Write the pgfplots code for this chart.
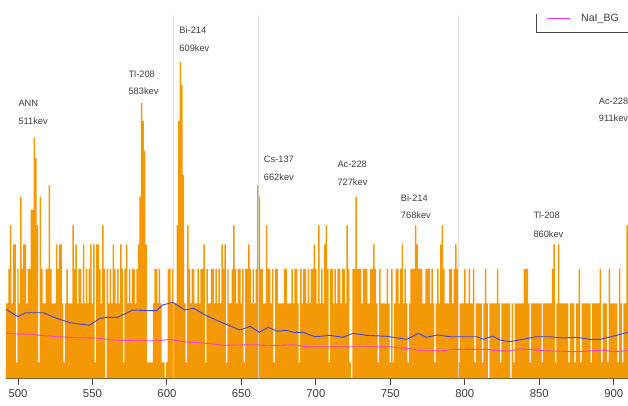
\documentclass[border=0pt]{standalone}
\usepackage{fontspec}
\setmainfont{Liberation Sans}
\usepackage{pgfplots}
\pgfplotsset{compat=1.18}
\definecolor{barorange}{RGB}{243,153,5}
\definecolor{lineblue}{RGB}{65,65,230}
\definecolor{linemag}{RGB}{250,55,230}
\definecolor{txtgray}{RGB}{60,60,60}
\definecolor{axgray}{RGB}{70,70,70}
\definecolor{vgray}{RGB}{215,215,215}
\begin{document}
\begin{tikzpicture}[x=1bp,y=1bp]
\begin{axis}[
  at={(0,0)}, anchor=south west,
  scale only axis, width=622bp, height=363.3bp,
  xmin=491.94, xmax=909.59,
  ymode=log, ymin=0.829, ymax=59.1,
  log origin y=infty,
  axis y line=none, ytick=\empty,
  axis x line*=bottom,
  x axis line style={axgray, line width=0.9bp, -},
  xtick={500,550,...,900},
  xtick align=outside,
  major tick length=6.5bp,
  xtick style={axgray, line width=0.9bp},
  xticklabel style={font=\fontsize{11.4}{13}\selectfont, text=txtgray, yshift=-1bp},
  /pgf/number format/assume math mode=true,
  clip=true,
  legend style={draw=none, fill=none, at={(axis description cs:0.8693,0.990)}, anchor=west,
    inner sep=0pt, outer sep=0pt, font=\fontsize{10.6}{12}\selectfont, text=txtgray,
    nodes={inner sep=0pt}, /tikz/every odd column/.append style={column sep=11bp}},
  legend image code/.code={\draw[#1] (0bp,0bp) -- (22.6bp,0bp);},
]
\addplot[ybar, bar width=1, fill=barorange, draw=none, forget plot] table[row sep=\\] {
x y\\
492 2\\ 493 2\\ 494 3\\ 495 5\\ 496 2\\ 497 4\\ 498 4\\ 499 1\\ 500 3\\ 501 2\\
502 7\\ 503 3\\ 504 4\\ 505 4\\ 506 2\\ 507 3\\ 508 3\\ 509 6\\ 510 6\\ 511 14\\
512 11\\ 513 5\\ 514 1\\ 515 7\\ 516 3\\ 517 2\\ 518 2\\ 519 3\\ 520 3\\ 521 8\\
522 3\\ 523 2\\ 524 2\\ 525 2\\ 526 4\\ 527 3\\ 528 4\\ 529 4\\ 530 2\\ 531 1\\
532 2\\ 533 3\\ 534 2\\ 535 2\\ 536 2\\ 537 5\\ 538 3\\ 539 4\\ 540 2\\ 541 3\\
542 3\\ 543 2\\ 544 4\\ 545 2\\ 546 3\\ 547 2\\ 548 3\\ 549 4\\ 550 2\\ 551 4\\
552 1\\ 553 4\\ 554 4\\ 555 3\\ 556 2\\ 557 5\\ 558 3\\ 560 3\\ 561 2\\
562 3\\ 563 2\\ 564 4\\ 565 3\\ 566 2\\ 567 3\\ 568 2\\ 569 4\\ 570 3\\ 571 1\\
572 3\\ 573 4\\ 574 2\\ 575 3\\ 576 2\\ 577 3\\ 578 3\\ 579 2\\ 580 3\\ 581 4\\
582 7\\ 583 21\\ 584 17\\ 585 12\\ 586 4\\ 587 1\\ 588 1\\ 589 1\\ 590 1\\ 591 2\\
592 3\\ 593 3\\ 594 2\\
595 3\\ 596 2\\ 597 1\\ 598 1\\ 600 1\\ 601 3\\ 602 3\\ 603 2\\ 604 3\\
605 2\\ 606 2\\ 607 5\\ 608 17\\ 609 34\\ 610 26\\ 611 9\\ 612 2\\ 613 1\\ 614 5\\
615 3\\ 616 2\\ 617 3\\ 618 3\\ 619 2\\ 620 2\\ 621 3\\ 622 2\\ 623 3\\ 624 3\\
625 4\\ 626 1\\ 627 3\\ 628 2\\ 629 2\\ 630 3\\ 631 3\\ 632 2\\ 633 3\\ 634 2\\
635 3\\ 636 2\\ 637 4\\ 638 3\\ 639 4\\ 640 1\\ 641 3\\ 642 2\\ 643 2\\ 644 3\\ 645 5\\
646 3\\ 647 2\\ 648 3\\ 649 3\\ 650 2\\ 651 3\\ 652 1\\ 653 3\\ 654 3\\ 655 4\\
656 3\\ 657 2\\ 658 3\\ 659 2\\ 660 3\\ 661 8\\ 662 7\\ 663 3\\ 664 3\\ 665 2\\
666 2\\ 667 5\\ 668 3\\ 669 3\\ 670 2\\ 671 3\\ 672 1\\ 673 3\\ 674 3\\ 675 2\\
676 2\\ 677 2\\ 678 2\\ 679 3\\ 680 3\\ 681 2\\ 682 2\\ 683 2\\ 684 3\\ 685 2\\
686 3\\ 687 3\\ 688 2\\ 689 1\\ 690 3\\ 691 2\\ 692 3\\ 693 3\\ 694 2\\ 695 3\\
696 2\\ 697 3\\ 698 3\\
699 4\\ 700 3\\ 701 2\\ 702 5\\ 703 2\\ 704 3\\ 705 2\\ 706 4\\ 707 5\\ 708 3\\
709 1\\ 710 3\\ 711 3\\ 712 2\\ 713 3\\ 714 2\\ 715 3\\ 716 3\\ 717 2\\ 718 3\\
719 3\\ 720 2\\ 721 5\\ 722 3\\ 723 1\\ 725 3\\ 726 3\\ 727 7\\ 728 3\\
729 3\\ 730 3\\ 731 2\\ 732 3\\ 733 3\\ 734 3\\ 735 2\\ 736 2\\ 737 3\\ 738 3\\
739 4\\ 740 3\\ 741 2\\ 742 1\\ 743 3\\ 744 2\\ 745 2\\ 746 2\\ 747 2\\ 748 3\\
749 2\\ 750 1\\ 751 3\\
752 1\\ 753 2\\ 754 3\\ 755 3\\ 756 2\\ 757 3\\ 758 4\\ 759 2\\ 760 3\\ 761 2\\
762 1\\ 763 2\\ 764 3\\ 765 3\\ 766 3\\ 767 5\\ 768 4\\ 769 3\\ 770 3\\ 771 3\\
772 2\\ 773 2\\ 774 3\\ 775 3\\ 776 3\\ 777 2\\ 778 3\\ 779 2\\ 780 1\\ 781 2\\
782 3\\ 783 2\\ 784 4\\ 785 5\\ 786 3\\ 787 2\\ 788 2\\ 789 2\\ 790 3\\ 791 3\\
792 2\\ 793 3\\ 794 4\\ 795 3\\ 796 1\\ 797 2\\ 798 2\\ 799 2\\ 800 3\\ 801 2\\
802 2\\ 803 3\\ 804 2\\
805 2\\ 806 3\\ 807 1\\ 808 2\\ 809 2\\ 810 2\\ 811 2\\ 812 1\\ 813 2\\ 814 3\\
815 2\\ 817 2\\ 818 2\\ 819 2\\ 820 2\\ 821 2\\ 822 3\\ 823 2\\ 824 1\\
825 2\\ 826 2\\ 827 2\\ 828 2\\ 829 2\\ 830 2\\ 832 2\\ 833 1\\ 834 2\\
835 2\\ 836 2\\ 837 2\\ 838 2\\ 839 2\\ 840 3\\ 841 3\\ 842 3\\ 843 2\\ 844 1\\
845 2\\ 846 2\\ 847 2\\ 848 2\\ 849 2\\ 850 2\\ 851 2\\ 852 1\\ 853 2\\ 854 2\\
855 2\\ 856 2\\
857 2\\ 858 2\\ 859 3\\ 860 4\\ 861 1\\ 862 2\\ 863 4\\ 864 2\\ 865 2\\ 866 2\\
867 2\\ 868 2\\ 869 2\\ 870 1\\ 871 2\\ 872 2\\ 873 2\\ 874 1\\ 875 2\\ 876 2\\
877 3\\ 878 1\\ 879 2\\ 880 2\\ 881 2\\ 882 2\\ 883 2\\ 884 2\\ 885 1\\ 886 2\\
887 2\\ 888 2\\ 889 2\\ 890 2\\ 891 3\\ 892 1\\ 893 2\\ 894 2\\ 895 2\\ 896 1\\
897 3\\ 898 2\\ 899 2\\ 900 2\\ 901 2\\ 902 2\\ 903 1\\ 904 3\\ 905 2\\ 906 1\\
907 2\\ 908 2\\ 909 5\\
};
\addplot[vgray, line width=1.2bp, opacity=0.8, forget plot] coordinates {(604.3,0.829) (604.3,59.1)};
\addplot[vgray, line width=1.2bp, opacity=0.8, forget plot] coordinates {(661.35,0.829) (661.35,59.1)};
\addplot[vgray, line width=1.2bp, opacity=0.8, forget plot] coordinates {(795.6,0.829) (795.6,59.1)};
\addplot[lineblue, line width=0.9bp, forget plot] coordinates {
(492,1.864) (500,1.709) (505,1.791) (517,1.791) (526,1.677) (535,1.592) (548,1.545) (555,1.677)
(560,1.697) (567,1.697) (577,1.849) (587,1.834) (593,1.834) (597,1.960) (604,2.024) (612,1.849)
(618,1.886) (627,1.723) (635.6,1.611) (649,1.462) (656,1.526) (662,1.423) (668,1.509) (674,1.440)
(680,1.457) (685,1.423) (692,1.423) (696,1.378) (700,1.351) (709.5,1.373) (718,1.342) (725,1.406)
(734,1.373) (748,1.357) (761,1.310) (769,1.406) (774,1.342) (782,1.378) (790,1.351) (808,1.351)
(812.5,1.310) (818.7,1.362) (823.6,1.300) (830,1.274) (839,1.310) (848,1.351) (857,1.351)
(866,1.331) (875,1.342) (884,1.310) (891,1.310) (900,1.362) (909.5,1.423)};
\addplot[linemag, line width=0.9bp] coordinates {
(492,1.406) (500,1.394) (510,1.394) (512.5,1.378) (528,1.351) (539,1.335) (553,1.331) (564,1.300)
(577,1.289) (595,1.289) (602,1.310) (611,1.274) (622,1.259) (631,1.240) (638,1.221) (645,1.225)
(660,1.229) (667,1.215) (685,1.229) (694,1.201) (720,1.201) (750,1.201) (763,1.173) (772,1.146)
(785,1.146) (792,1.165) (815,1.165) (821,1.146) (830,1.142) (837,1.173) (853,1.146) (875,1.133)
(893,1.155) (899.5,1.133) (909.5,1.146)};
\addlegendentry{NaI\_BG}
\draw[axgray, line width=0.9bp] (rel axis cs:0.8521,1.05) -- (rel axis cs:0.8521,0.9524) -- (rel axis cs:1.05,0.9524);
\begin{scope}[every node/.style={anchor=west, inner sep=0pt, text=txtgray, font=\fontsize{9.3}{11}\selectfont}]
\node at (axis cs:500.2,20.96) {ANN};
\node at (axis cs:500.2,16.89) {511kev};
\node at (axis cs:574.1,29.58) {Tl-208};
\node at (axis cs:574.1,24.02) {583kev};
\node at (axis cs:608.3,49.18) {Bi-214};
\node at (axis cs:608.3,39.81) {609kev};
\node at (axis cs:665.0,10.86) {Cs-137};
\node at (axis cs:665.0,8.79) {662kev};
\node at (axis cs:714.4,10.27) {Ac-228};
\node at (axis cs:714.4,8.32) {727kev};
\node at (axis cs:757.0,6.87) {Bi-214};
\node at (axis cs:757.0,5.60) {768kev};
\node at (axis cs:846.0,5.60) {Tl-208};
\node at (axis cs:846.0,4.53) {860kev};
\node at (axis cs:889.9,21.54) {Ac-228};
\node at (axis cs:889.9,17.49) {911kev};
\end{scope}
\end{axis}
\pgfresetboundingbox
\path[use as bounding box] (-6,-26.7) rectangle (622,378.3);
\end{tikzpicture}
\end{document}
